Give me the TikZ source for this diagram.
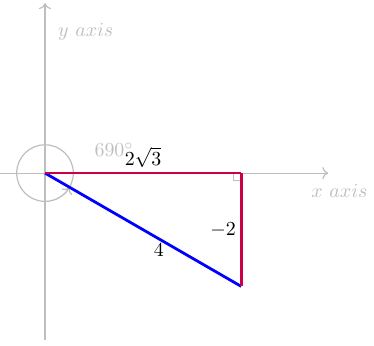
\documentclass[tikz,border=0pt]{standalone}
\usepackage{amsmath}
\usepackage{tikz}
\usetikzlibrary{arrows.meta,calc}
\definecolor{axisgray}{RGB}{190,190,190}
\definecolor{sidered}{RGB}{204,0,68}
\tikzset{
  axis/.style  ={->, semithick, draw=axisgray},
  axlbl/.style ={text=axisgray},
  side/.style  ={line width=1.4pt, draw=sidered},
  hyp/.style   ={line width=1.4pt, draw=blue},
  lbl/.style   ={font=\normalsize, inner sep=2pt}
}
\begin{document}
\begin{tikzpicture}
\useasboundingbox (-0.795,-3.04) rectangle (5.81,3.057);
\coordinate (O) at (0,0);
\coordinate (A) at ({2*sqrt(3)},0);
\coordinate (B) at ({2*sqrt(3)},-2);
\coordinate (xl) at (-0.8,0);
\coordinate (xr) at (5,0);
\coordinate (yb) at (0,-2.95);
\coordinate (yt) at (0,3);

\draw[axis] (xl) -- (xr);
\draw[axis] (yb) -- (yt);
\node[axlbl] (xlab) at (5.2,-0.32) {$x\ axis$};
\node[axlbl] (ylab) at (0.72,2.49) {$y\ axis$};

\draw[axis] (0.5,0) arc (0:690:0.5);
\node[axlbl] (ang) at (1.22,0.41) {$690^\circ$};

\draw[axisgray, semithick] ($(A)+(-0.13,0)$) -- ++(0,-0.13) -- ++(0.13,0);

\draw[hyp] (O) -- node[lbl, below, pos=0.58] {$4$} (B);
\draw[side] (O) -- node[lbl, above] {$2\sqrt{3}$} (A);
\draw[side] (A) -- node[lbl, left] {$-2$} (B);
\end{tikzpicture}
\end{document}
